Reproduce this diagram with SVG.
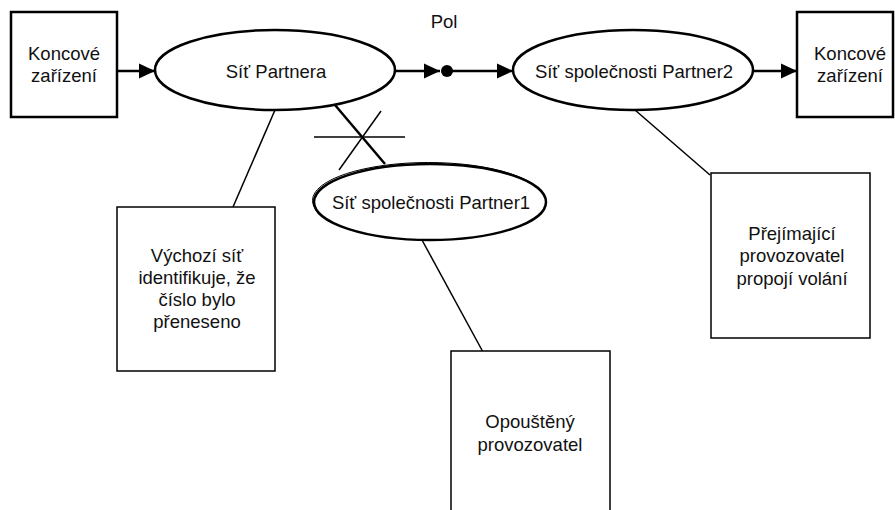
<svg xmlns="http://www.w3.org/2000/svg" width="895" height="510" viewBox="0 0 895 510">
<style>
text{font-family:"Liberation Sans",Arial,sans-serif;font-size:18.5px;fill:#111;text-anchor:middle}
.term{fill:#fff;stroke:#000;stroke-width:2.5}
.net{fill:#fff;stroke:#000;stroke-width:2.5}
.note{fill:#fff;stroke:#000;stroke-width:1.5}
.flow{stroke:#000;stroke-width:2.5;fill:none}
.thin{stroke:#000;stroke-width:1.5;fill:none}
</style>
<defs>
<marker id="arr" markerWidth="16" markerHeight="16" viewBox="0 0 16 16" refX="16" refY="8" orient="auto" markerUnits="userSpaceOnUse">
<path d="M0,0.5 L16,8 L0,15.5 Z" fill="#000"/>
</marker>
</defs>
<g id="connectors">
<line class="flow" x1="117" y1="71" x2="155" y2="71" marker-end="url(#arr)"/>
<line class="flow" x1="395" y1="71" x2="440" y2="71" marker-end="url(#arr)"/>
<line class="flow" x1="447" y1="71" x2="513" y2="71" marker-end="url(#arr)"/>
<circle cx="447" cy="71" r="6" fill="#000"/>
<line class="flow" x1="753" y1="71" x2="797" y2="71" marker-end="url(#arr)"/>
<line class="thin" x1="275" y1="110" x2="233" y2="207"/>
<line class="flow" x1="335" y1="105" x2="385" y2="164"/>
<line class="thin" x1="314" y1="137" x2="405" y2="137"/>
<line class="thin" x1="381" y1="111" x2="339" y2="170"/>
<line class="thin" x1="422" y1="240" x2="483" y2="352"/>
<line class="thin" x1="635" y1="110" x2="710" y2="175"/>
</g>
<g id="pol"><text x="444" y="28">Pol</text></g>
<g id="koncove-left">
<rect class="term" x="11" y="12" width="106" height="105"/>
<text x="64" y="60">Koncové</text>
<text x="64" y="82">zařízení</text>
</g>
<g id="sit-partnera">
<ellipse class="net" cx="275" cy="70" rx="120" ry="40"/>
<text x="276" y="78">Síť Partnera</text>
</g>
<g id="sit-partner2">
<ellipse class="net" cx="633" cy="70" rx="120" ry="40"/>
<text x="634" y="78">Síť společnosti Partner2</text>
</g>
<g id="koncove-right">
<rect class="term" x="797" y="12" width="96" height="105"/>
<text x="850" y="60">Koncové</text>
<text x="850" y="82">zařízení</text>
</g>
<g id="sit-partner1">
<ellipse cx="428.5" cy="200.5" rx="116" ry="38" fill="none" stroke="#000" stroke-width="1"/>
<ellipse class="net" cx="430" cy="202" rx="116" ry="38"/>
<text x="431" y="209">Síť společnosti Partner1</text>
</g>
<g id="vychozi">
<rect class="note" x="117" y="207" width="158" height="164"/>
<text x="197" y="262">Výchozí síť</text>
<text x="197" y="284">identifikuje, že</text>
<text x="197" y="306">číslo bylo</text>
<text x="197" y="328">přeneseno</text>
</g>
<g id="prejimajici">
<rect class="note" x="711" y="173" width="159" height="165"/>
<text x="792" y="240">Přejímající</text>
<text x="792" y="262">provozovatel</text>
<text x="792" y="285">propojí volání</text>
</g>
<g id="opousteny">
<rect class="note" x="451" y="351" width="159" height="170"/>
<text x="530" y="428">Opouštěný</text>
<text x="530" y="451">provozovatel</text>
</g>
</svg>
